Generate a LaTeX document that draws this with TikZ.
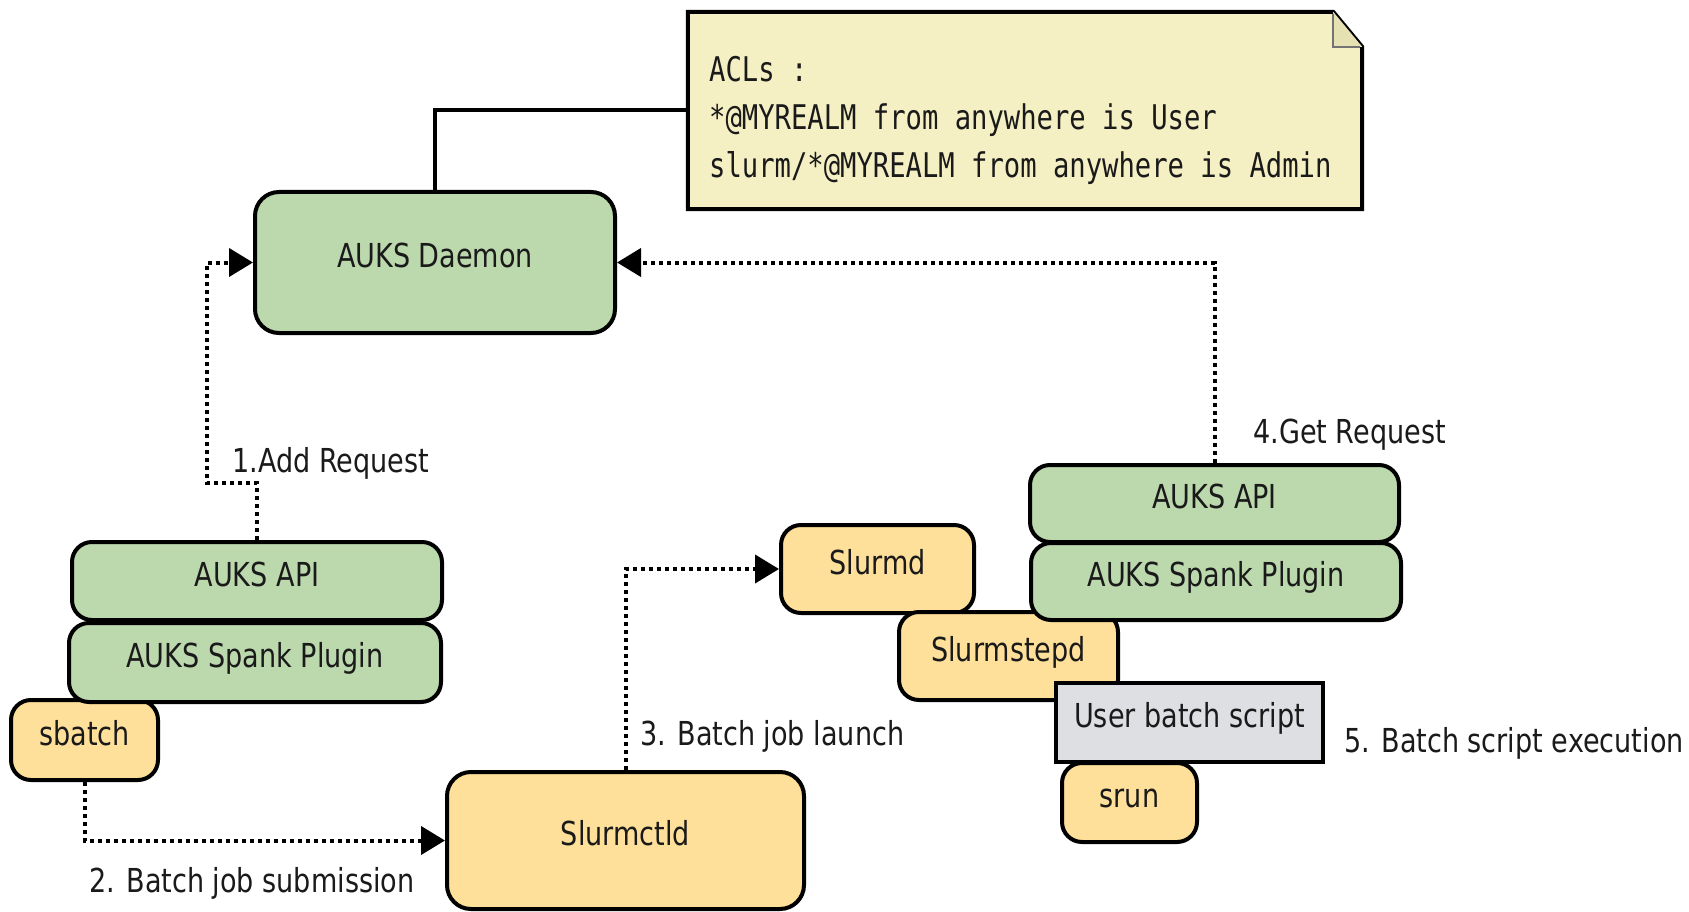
\documentclass[tikz,border=0pt]{standalone}
\usepackage{fontspec}
\newfontfamily\labfnt{DejaVu Sans}[FakeStretch=0.82]
\newfontfamily\monofnt{DejaVu Sans Mono}[FakeStretch=0.8]
\usetikzlibrary{arrows.meta,calc}
\definecolor{gfill}{HTML}{BCD8AD}
\definecolor{ofill}{HTML}{FFE09A}
\definecolor{nfill}{HTML}{F5F0C4}
\definecolor{foldfill}{HTML}{E6E1B2}
\definecolor{sfill}{HTML}{DEDFE3}
\definecolor{txt}{HTML}{1A1A1A}
\tikzset{
  box/.style={draw, line width=4pt, rounded corners=20pt, inner sep=0pt,
    font=\labfnt\fontsize{33}{40}\selectfont, text=txt,
    text height=24pt, text depth=14pt},
  greenbox/.style={box, fill=gfill},
  orangebox/.style={box, fill=ofill},
  scriptbox/.style={box, rounded corners=0pt, fill=sfill},
  flow/.style={line width=4pt, dash pattern=on 4pt off 4pt,
    -{Triangle[length=24pt,width=28pt]}},
  lab/.style={anchor=base west, inner sep=0pt, text=txt,
    font=\labfnt\fontsize{33}{40}\selectfont},
  acl/.style={anchor=base west, inner sep=0pt, text=txt,
    font=\monofnt\fontsize{34}{48}\selectfont},
}
\begin{document}
\begin{tikzpicture}[x=1pt,y=-1pt]
\useasboundingbox (0,0) rectangle (1689,912);

% note
\node[minimum width=674pt, minimum height=197pt, inner sep=0pt] (note) at (1025,110.5) {};
\draw[line width=4pt, fill=nfill, line join=miter]
  (note.north west) -- ($(note.north east)+(-29,0)$) -- ($(note.north east)+(0,35)$)
  -- (note.south east) -- (note.south west) -- cycle;
\fill[foldfill] ($(note.north east)+(-29,0)$) -- ($(note.north east)+(-29,35)$) -- ($(note.north east)+(0,35)$) -- cycle;
\draw[line width=2pt, draw=black!55] ($(note.north east)+(-29,2)$) -- ($(note.north east)+(-29,35)$) -- ($(note.north east)+(-2,35)$);
\node[acl] (acl1) at (709,82) {ACLs :};
\node[acl] (acl2) at (709,130) {*@MYREALM from anywhere is User};
\node[acl] (acl3) at (709,178) {slurm/*@MYREALM from anywhere is Admin};

% daemon
\node[greenbox, rounded corners=24pt, minimum width=360pt, minimum height=141pt] (daemon) at (435,262.5) {AUKS Daemon};
\draw[line width=4pt] (daemon.north) |- (note.west);

% left stack
\node[orangebox, minimum width=147pt, minimum height=80pt] (sbatch) at (84.5,740) {sbatch};
\node[greenbox, minimum width=372pt, minimum height=79pt] (plugL) at (255,662.5) {AUKS Spank Plugin};
\node[greenbox, minimum width=370pt, minimum height=78pt] (apiL) at (257,581) {AUKS API};

% slurmctld
\node[orangebox, rounded corners=24pt, minimum width=357pt, minimum height=137pt] (ctld) at (625.5,840.5) {Slurmctld};

% right side
\node[orangebox, minimum width=193pt, minimum height=88pt] (slurmd) at (877.5,569) {Slurmd};
\node[orangebox, minimum width=219pt, minimum height=88pt] (stepd) at (1008.5,656) {Slurmstepd};
\node[orangebox, minimum width=135pt, minimum height=79pt] (srun) at (1129.5,802.5) {srun};
\node[scriptbox, minimum width=267pt, minimum height=79pt] (ubs) at (1189.5,722.5) {User batch script};
\node[greenbox, minimum width=370pt, minimum height=77pt] (plugR) at (1216,581.5) {AUKS Spank Plugin};
\node[greenbox, minimum width=369pt, minimum height=77pt] (apiR) at (1214.5,503.5) {AUKS API};

% connectors
\coordinate (c1) at (207,483);
\draw[flow] (apiL.north) |- (c1) |- (daemon.west);
\draw[flow] (sbatch.south) |- (ctld.west);
\draw[flow] (ctld.north) |- (slurmd.west);
\draw[flow] (apiR.north) |- (daemon.east);

% labels
\node[lab] (l1) at (232,472) {1.Add Request};
\node[lab] (l2) at (89,892) {2. Batch job submission};
\node[lab] (l3) at (640,745) {3. Batch job launch};
\node[lab] (l4) at (1253,443) {4.Get Request};
\node[lab] (l5) at (1344,752) {5. Batch script execution};
\end{tikzpicture}
\end{document}
